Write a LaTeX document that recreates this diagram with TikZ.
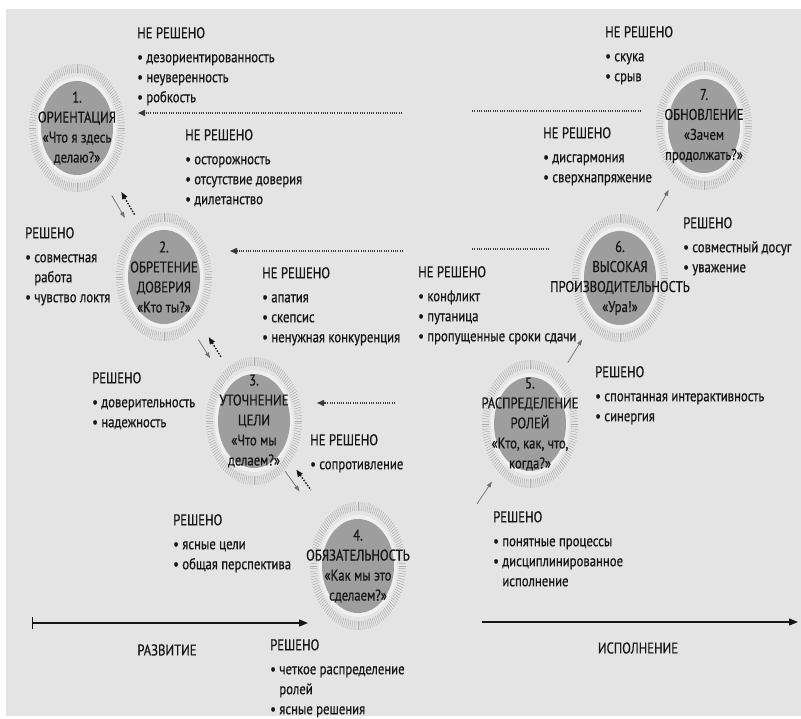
\documentclass[tikz,border=0pt]{standalone}
\usepackage{fontspec}
\setmainfont[FakeStretch=0.82,FakeBold=0.6]{PT Sans}
\usetikzlibrary{positioning,arrows.meta,calc}
\definecolor{paperbg}{RGB}{228,228,228}
\definecolor{discgray}{RGB}{158,158,158}
\definecolor{ringgray}{RGB}{172,172,172}
\definecolor{bandlight}{RGB}{240,240,240}
\definecolor{inkdark}{RGB}{22,22,22}
\definecolor{arrowgray}{RGB}{110,110,110}

\newcommand{\notefont}{\fontsize{15.5}{20}\selectfont}
\newcommand{\itm}{\textbullet\ }
\newcommand{\ind}{\hphantom{\textbullet\ }}

% one stage: name, centre, text
\newcommand{\stagering}[3]{%
  \coordinate (#1) at (#2);
  \fill[bandlight] (#1) ellipse [x radius=39, y radius=51];
  \fill[discgray] (#1) ellipse [x radius=36, y radius=47];
  \foreach \a in {0,2.5,...,357.5}
    \draw[ringtick] ($(#1)+(\a:41 and 55)$) -- ($(#1)+(\a:48 and 64)$);
  \node[stage] (#1t) at (#1) {#3};
}

\tikzset{
  stage/.style={align=center,text=inkdark,inner sep=0pt,font=\notefont},
  notes/.style={anchor=north west,align=left,inner sep=0pt,text=inkdark,font=\notefont},
  axislabel/.style={text=inkdark,font=\notefont,inner sep=0pt},
  ringtick/.style={ringgray,line width=0.45pt},
  openline/.style={inkdark!85,line width=1.5pt,dash pattern=on 1pt off 1.3pt},
  openarrow/.style={openline,-{Triangle[length=7pt,width=6pt]}},
  backarrow/.style={inkdark,line width=1.4pt,dash pattern=on 1.5pt off 1.5pt,
                    {Triangle[length=7pt,width=5.5pt]}-},
  donearrow/.style={arrowgray,line width=0.7pt,-{Triangle[length=6pt,width=4pt]}},
  axisarrow/.style={inkdark,line width=1.3pt,{Bar[width=12pt]}-{Triangle[length=9pt,width=7pt]}}
}

\begin{document}
\begin{tikzpicture}[x=1pt,y=1pt]
  \useasboundingbox (0,0) rectangle (801,-719);
  \fill[paperbg] (6,-9) rectangle (801,-716);

  \stagering{c1}{77,-128}{1.\\ОРИЕНТАЦИЯ\\«Что я здесь\\делаю?»}
  \stagering{c2}{164,-277}{2.\\ОБРЕТЕНИЕ\\ДОВЕРИЯ\\«Кто ты?»}
  \stagering{c3}{254,-421}{3.\\УТОЧНЕНИЕ\\ЦЕЛИ\\«Что мы\\делаем?»}
  \stagering{c4}{358,-566}{4.\\ОБЯЗАТЕЛЬНОСТЬ\\«Как мы это\\сделаем?»}
  \stagering{c5}{530,-424}{5.\\РАСПРЕДЕЛЕНИЕ\\РОЛЕЙ\\«Кто, как, что,\\когда?»}
  \stagering{c6}{620,-278}{6.\\ВЫСОКАЯ\\ПРОИЗВОДИТЕЛЬНОСТЬ\\«Ура!»}
  \stagering{c7}{704,-126}{7.\\ОБНОВЛЕНИЕ\\«Зачем\\продолжать?»}

  % small arrows between neighbouring stages
  \draw[donearrow] ($(c1)!0.44!(c2)!4pt!-90:(c2)$) -- ($(c1)!0.59!(c2)!4pt!-90:(c2)$);
  \draw[backarrow] ($(c1)!0.45!(c2)!6pt!90:(c2)$) -- ($(c1)!0.61!(c2)!6pt!90:(c2)$);
  \draw[donearrow] ($(c2)!0.42!(c3)!4pt!-90:(c3)$) -- ($(c2)!0.55!(c3)!4pt!-90:(c3)$);
  \draw[backarrow] ($(c2)!0.44!(c3)!6pt!90:(c3)$) -- ($(c2)!0.58!(c3)!6pt!90:(c3)$);
  \draw[donearrow] ($(c3)!0.33!(c4)!4pt!-90:(c4)$) -- ($(c3)!0.47!(c4)!4pt!-90:(c4)$);
  \draw[backarrow] ($(c3)!0.36!(c4)!6pt!90:(c4)$) -- ($(c3)!0.50!(c4)!6pt!90:(c4)$);
  \coordinate (s5) at (477,-504);
  \draw[donearrow] (s5) -- ($(s5)!27pt!(c5)$);
  \draw[donearrow] ($(c5)!0.42!(c6)$) -- ($(c5)!0.58!(c6)$);
  \draw[donearrow] ($(c6)!0.44!(c7)$) -- ($(c6)!0.58!(c7)$);

  % dotted returns
  \coordinate (u1) at (402,-113);
  \coordinate (v1) at (472,-111);
  \draw[openarrow] (u1) -- ([xshift=61pt]u1 -| c1);
  \draw[openline] (v1) -- ([xshift=-64pt]v1 -| c7);
  \coordinate (u2) at (403,-251);
  \coordinate (v2) at (472,-249);
  \draw[openarrow] (u2) -- ([xshift=66pt]u2 -| c2);
  \draw[openline] (v2) -- ([xshift=-72pt]v2 -| c6);
  \coordinate (u3) at (395,-403);
  \draw[openarrow] (u3) -- ([xshift=63pt]u3 -| c3);

  % phases
  \coordinate (dev0) at (32,-623);
  \coordinate (dev1) at (308,-623);
  \draw[axisarrow] (dev0) -- (dev1);
  \coordinate (exe0) at (482,-622);
  \coordinate (exe1) at (798,-622);
  \draw[inkdark,line width=1.3pt,-{Triangle[length=9pt,width=7pt]}] (exe0) -- (exe1);
  \node[axislabel] (devlabel) at (167,-650) {РАЗВИТИЕ};
  \node[axislabel] (exelabel) at (638,-648) {ИСПОЛНЕНИЕ};

  % notes
  \node[notes] (n1) at (137,-27) {НЕ РЕШЕНО\\[4pt]\itm дезориентированность\\\itm неуверенность\\\itm робкость};
  \node[notes] (n2) at (185,-129) {НЕ РЕШЕНО\\[4pt]\itm осторожность\\\itm отсутствие доверия\\\itm дилетанство};
  \node[notes] (y2) at (25,-227) {РЕШЕНО\\[4pt]\itm совместная\\\ind работа\\\itm чувство локтя};
  \node[notes] (n3) at (262,-267) {НЕ РЕШЕНО\\[4pt]\itm апатия\\\itm скепсис\\\itm ненужная конкуренция};
  \node[notes] (y3) at (92,-372) {РЕШЕНО\\[4pt]\itm доверительность\\\itm надежность};
  \node[notes] (n4) at (310,-434) {НЕ РЕШЕНО\\[4pt]\itm сопротивление};
  \node[notes] (y4) at (173,-514) {РЕШЕНО\\[4pt]\itm ясные цели\\\itm общая перспектива};
  \node[notes] (y5) at (270,-639) {РЕШЕНО\\[4pt]\itm четкое распределение\\\ind ролей\\\itm ясные решения};
  \node[notes] (n7) at (605,-26) {НЕ РЕШЕНО\\[4pt]\itm скука\\\itm срыв};
  \node[notes] (n6) at (543,-127) {НЕ РЕШЕНО\\[4pt]\itm дисгармония\\\itm сверхнапряжение};
  \node[notes] (y7) at (683,-217) {РЕШЕНО\\[4pt]\itm совместный досуг\\\itm уважение};
  \node[notes] (n5) at (418,-266) {НЕ РЕШЕНО\\[4pt]\itm конфликт\\\itm путаница\\\itm пропущенные сроки сдачи};
  \node[notes] (y6) at (595,-366) {РЕШЕНО\\[4pt]\itm спонтанная интерактивность\\\itm синергия};
  \node[notes] (y8) at (493,-511) {РЕШЕНО\\[4pt]\itm понятные процессы\\\itm дисциплинированное\\\ind исполнение};
\end{tikzpicture}
\end{document}
